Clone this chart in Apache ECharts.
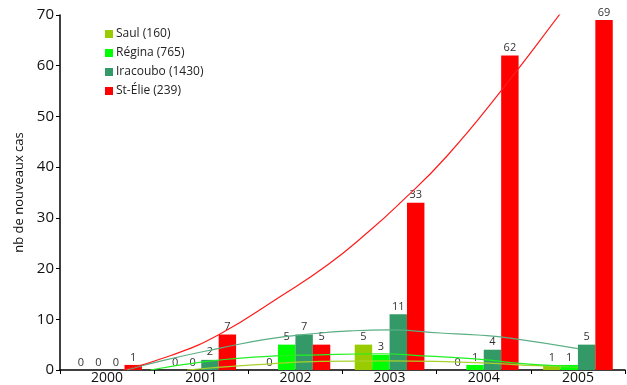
<!DOCTYPE html>
<html>
<head>
<meta charset="utf-8">
<script src="https://cdn.jsdelivr.net/npm/echarts@6/dist/echarts.min.js"></script>
<style>
  html, body { margin: 0; padding: 0; background: #fff; }
  #chart { width: 627px; height: 385px; }
</style>
</head>
<body>
<div id="chart"></div>
<script>
var years = ["2000", "2001", "2002", "2003", "2004", "2005"];
var seriesNames = ["Saul (160)", "Régina (765)", "Iracoubo (1430)", "St-Élie (239)"];
var colors = ["#99CC00", "#00FF00", "#339966", "#FF0000"];
var lineColors = ["#A8D22A", "#22F022", "#5AAE84", "#FF1A1A"];

var saul = [0, 0, 0, 5, 0, 1];
var regina = [0, 0, 5, 3, 1, 1];
var iracoubo = [0, 2, 7, 11, 4, 5];
var stElie = [1, 7, 5, 33, 62, 69];

// tendances : [position de l'annee (0 = 2000), valeur]
var saulTrend = [[0.85, 0], [1.55, 1.0], [2.26, 1.7], [2.97, 1.8], [3.67, 1.6], [4.1, 1.3], [4.57, 0.85], [5.0, 0.6]];
var reginaTrend = [[0.46, 0], [1.02, 1.6], [1.62, 2.6], [2.26, 3.0], [2.9, 3.2], [3.35, 2.8], [3.75, 2.4], [4.03, 2.0], [4.38, 1.3], [4.74, 0.85], [5.0, 0.65]];
var iracouboTrend = [[0.21, 0], [0.6, 1.9], [1.2, 4.3], [1.7, 6.1], [2.21, 7.2], [2.58, 7.7], [3.0, 7.9], [3.54, 7.3], [3.93, 6.9], [4.28, 6.3], [5.0, 4.2]];
var stElieTrend = [[0.17, 0], [0.67, 2.8], [1.19, 7.0], [1.84, 14.5], [2.34, 20.7], [2.76, 27.0], [3.11, 32.9], [3.61, 42.2], [4.19, 55.2], [4.81, 70.2], [4.9, 72.5]];

var chart = echarts.init(document.getElementById('chart'));

var barValues = [saul, regina, iracoubo, stElie];
var trends = [saulTrend, reginaTrend, iracouboTrend, stElieTrend];
var series = [];

barValues.forEach(function (vals, i) {
  series.push({
    name: seriesNames[i],
    type: 'bar',
    data: vals,
    barGap: '0%',
    barCategoryGap: '26%',
    itemStyle: { color: colors[i] },
    label: {
      show: true,
      position: 'top',
      distance: 2,
      fontSize: 11,
      color: '#333',
      fontFamily: 'Open Sans'
    }
  });
});

trends.forEach(function (pts, i) {
  series.push({
    name: seriesNames[i] + ' tendance',
    type: 'line',
    xAxisIndex: 1,
    data: pts,
    smooth: true,
    symbol: 'none',
    silent: true,
    clip: true,
    lineStyle: { color: lineColors[i], width: 1.2 }
  });
});

var option = {
  animation: false,
  backgroundColor: '#fff',
  textStyle: { fontFamily: 'Open Sans' },
  legend: {
    data: seriesNames,
    orient: 'vertical',
    left: 100,
    top: 23,
    icon: 'rect',
    itemWidth: 8,
    itemHeight: 8,
    itemGap: 7,
    textStyle: { fontSize: 12, color: '#222', padding: [0, 0, 0, -2] }
  },
  grid: { left: 60, right: 2, top: 15, bottom: 15, outerBoundsMode: 'none' },
  xAxis: [
    {
      type: 'category',
      data: years,
      boundaryGap: true,
      axisLine: { show: true, onZero: false, lineStyle: { color: '#000', width: 1.5 } },
      axisTick: { show: true, length: 4, lineStyle: { color: '#000' } },
      axisLabel: { fontSize: 14, color: '#111', margin: 1 }
    },
    {
      type: 'value',
      min: -0.5,
      max: 5.5,
      show: false
    }
  ],
  yAxis: {
    type: 'value',
    min: 0,
    max: 70,
    interval: 10,
    name: 'nb de nouveaux cas',
    nameLocation: 'middle',
    nameGap: 34,
    nameRotate: 90,
    nameTextStyle: { fontSize: 13, color: '#111' },
    axisLine: { show: true, onZero: false, lineStyle: { color: '#000', width: 1.5 } },
    axisTick: { show: true, length: 4, lineStyle: { color: '#000' } },
    axisLabel: { fontSize: 15, color: '#111', margin: 6 },
    splitLine: { show: false }
  },
  series: series
};

chart.setOption(option);
</script>
</body>
</html>
